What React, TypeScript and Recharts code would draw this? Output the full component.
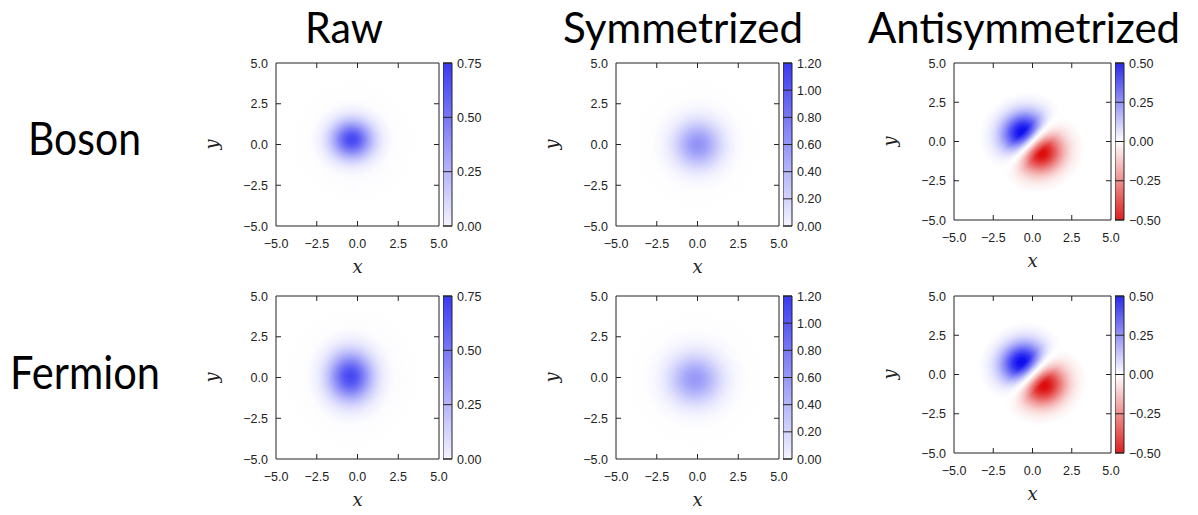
import React from "react";
import { Bar, BarChart, ReferenceArea, Scatter, ScatterChart, XAxis, YAxis } from "recharts";

const AXIS_TICKS = [-5, -2.5, 0, 2.5, 5];
const COLUMN_TITLES = ["Raw", "Symmetrized", "Antisymmetrized"];
const ROW_TITLES = ["Boson", "Fermion"];

// colour bar ranges and ticks per column
const RAW_RANGE = [0, 0.75];
const RAW_TICKS = [0, 0.25, 0.5, 0.75];
const SYM_RANGE = [0, 1.2];
const SYM_TICKS = [0, 0.2, 0.4, 0.6, 0.8, 1.0, 1.2];
const ANTI_RANGE = [-0.5, 0.5];
const ANTI_TICKS = [-0.5, -0.25, 0, 0.25, 0.5];

// density blobs: centre (x, y), peak value v, spread sx/sy, tilt a (deg)
const BOSON_RAW = [
  { x: -0.2, y: 0.15, v: 0.035, sx: 1.5, sy: 1.5, a: 0 },
  { x: -0.35, y: 0.3, v: 0.7, sx: 0.85, sy: 0.78, a: 0 },
];
const BOSON_SYM = [
  { x: 0.0, y: 0.0, v: 0.05, sx: 1.6, sy: 1.6, a: 0 },
  { x: 0.03, y: 0.0, v: 0.64, sx: 0.95, sy: 0.95, a: 0 },
];
const BOSON_ANTI = [
  { x: -0.64, y: 0.61, v: 0.5, sx: 0.95, sy: 0.82, a: 30 },
  { x: 0.6, y: -0.76, v: -0.5, sx: 0.95, sy: 0.82, a: 30 },
];
const FERMION_RAW = [
  { x: -0.3, y: 0.0, v: 0.04, sx: 1.6, sy: 1.7, a: 0 },
  { x: -0.44, y: 0.06, v: 0.7, sx: 0.9, sy: 1.0, a: 0 },
];
const FERMION_SYM = [
  { x: -0.1, y: -0.1, v: 0.05, sx: 1.7, sy: 1.7, a: 0 },
  { x: -0.15, y: -0.1, v: 0.6, sx: 1.05, sy: 1.0, a: 0 },
];
const FERMION_ANTI = [
  { x: -0.7, y: 0.79, v: 0.5, sx: 0.95, sy: 0.82, a: 30 },
  { x: 0.76, y: -0.73, v: -0.5, sx: 0.95, sy: 0.82, a: 30 },
];

const BLUE = "#3a3af2";
const PALE = "#f3f3ff";
const ANTI_BLUE = "#0a0af0";
const ANTI_RED = "#dc0a0a";
const INK = "#222";

// gaussian falloff for radial gradient (offset, relative strength), radius = 3 sigma
const GAUSS = [
  [0, 1], [0.1, 0.956], [0.2, 0.835], [0.3, 0.667], [0.4, 0.487], [0.5, 0.325],
  [0.6, 0.198], [0.7, 0.11], [0.8, 0.056], [0.9, 0.026], [1, 0],
];

const PLOT_LEFT = [276, 616, 954];
const PLOT_TOP = [63, 296];
const PLOT_SIZE = [163, 163, 157];

const fmt = (v: number, d: number) => v.toFixed(d).replace("-", "\u2212");

const YW = 60;
const XH = 30;
const TP = 10;
const RP = 16;
const TL = 5;

function Panel({ id, left, top, size, blobs, vmax, anti }: any) {
  const k = size / 10;

  const shape = (props: any) => {
    const { cx, cy, payload } = props;
    if (cx == null || cy == null) return null;
    const key = `${id}-${String(payload.x).replace(/[^0-9]/g, "")}-${String(payload.y).replace(/[^0-9]/g, "")}`;
    const color = payload.v < 0 ? ANTI_RED : anti ? ANTI_BLUE : BLUE;
    const amp = Math.min(1, Math.abs(payload.v) / vmax);
    let mask = null;
    if (anti) {
      const d = (payload.y - payload.x) / Math.SQRT2;
      const s = d >= 0 ? 1 : -1;
      const u = -s / Math.SQRT2;
      const fx = cx - u * Math.abs(d) * k;
      const fy = cy - u * Math.abs(d) * k;
      const w = 0.85 * k;
      mask = (
        <>
          <linearGradient id={`${key}g`} gradientUnits="userSpaceOnUse" x1={fx} y1={fy} x2={fx + u * w} y2={fy + u * w}>
            <stop offset="0" stopColor="#000" />
            <stop offset="0.5" stopColor="#aaa" />
            <stop offset="1" stopColor="#fff" />
          </linearGradient>
          <mask id={`${key}m`} maskUnits="userSpaceOnUse" x={YW} y={TP} width={size} height={size}>
            <rect x={YW} y={TP} width={size} height={size} fill={`url(#${key}g)`} />
          </mask>
        </>
      );
    }
    return (
      <g>
        <defs>
          <radialGradient id={key}>
            {GAUSS.map(([o, f]) => (
              <stop key={o} offset={o} stopColor={color} stopOpacity={f * amp} />
            ))}
          </radialGradient>
          <clipPath id={`${key}c`}>
            <rect x={YW} y={TP} width={size} height={size} />
          </clipPath>
          {mask}
        </defs>
        <g clipPath={`url(#${key}c)`}>
          <g mask={anti ? `url(#${key}m)` : undefined}>
            <ellipse
              cx={cx}
              cy={cy}
              rx={3 * payload.sx * k}
              ry={3 * payload.sy * k}
              transform={`rotate(${-payload.a} ${cx} ${cy})`}
              fill={`url(#${key})`}
            />
          </g>
        </g>
      </g>
    );
  };

  const xTick = (p: any) => {
    const v = p.payload.value;
    const inner = v > -5 && v < 5;
    return (
      <g>
        {inner && <line x1={p.x} x2={p.x} y1={TP + size} y2={TP + size - TL} stroke={INK} />}
        {inner && <line x1={p.x} x2={p.x} y1={TP} y2={TP + TL} stroke={INK} />}
        <text x={p.x} y={TP + size + 22} textAnchor="middle" fontSize={12.5} fill={INK}>
          {fmt(v, 1)}
        </text>
      </g>
    );
  };

  const yTick = (p: any) => {
    const v = p.payload.value;
    const inner = v > -5 && v < 5;
    return (
      <g>
        {inner && <line x1={YW} x2={YW + TL} y1={p.y} y2={p.y} stroke={INK} />}
        {inner && <line x1={YW + size} x2={YW + size - TL} y1={p.y} y2={p.y} stroke={INK} />}
        <text x={YW - 8} y={p.y + 4.5} textAnchor="end" fontSize={12.5} fill={INK}>
          {fmt(v, 1)}
        </text>
      </g>
    );
  };

  return (
    <div style={{ position: "absolute", left: left - YW, top: top - TP }}>
      <ScatterChart
        width={YW + size + RP}
        height={TP + size + XH}
        margin={{ top: TP, right: RP, bottom: 0, left: 0 }}
      >
        <XAxis type="number" dataKey="x" domain={[-5, 5]} ticks={AXIS_TICKS} interval={0} height={XH} axisLine={false} tickLine={false} tick={xTick} />
        <YAxis type="number" dataKey="y" domain={[-5, 5]} ticks={AXIS_TICKS} interval={0} width={YW} axisLine={false} tickLine={false} tick={yTick} />
        <Scatter data={blobs} shape={shape} isAnimationActive={false} />
        <ReferenceArea x1={-5} x2={5} y1={-5} y2={5} fill="none" fillOpacity={0} stroke={INK} strokeWidth={1} ifOverflow="visible" />
      </ScatterChart>
    </div>
  );
}

function ColorBar({ id, left, top, height, range, ticks, anti }: any) {
  const BW = 9;
  const LW = 50;
  const PAD = 10;
  const tick = (p: any) => (
    <g>
      <line x1={0} x2={BW} y1={p.y} y2={p.y} stroke={INK} />
      <text x={BW + 5} y={p.y + 4.5} fontSize={12.5} fill={INK}>
        {fmt(p.payload.value, 2)}
      </text>
    </g>
  );
  return (
    <div style={{ position: "absolute", left, top: top - PAD }}>
      <BarChart
        width={BW + LW}
        height={height + 2 * PAD}
        data={[{ name: "c", range }]}
        margin={{ top: PAD, right: 0, bottom: PAD, left: 0 }}
        barCategoryGap={0}
        barGap={0}
      >
        <defs>
          <linearGradient id={id} x1="0" y1="0" x2="0" y2="1">
            {anti ? (
              <>
                <stop offset="0" stopColor="#2a2ae8" />
                <stop offset="0.5" stopColor="#ffffff" />
                <stop offset="1" stopColor="#dc2020" />
              </>
            ) : (
              <>
                <stop offset="0" stopColor={BLUE} />
                <stop offset="1" stopColor={PALE} />
              </>
            )}
          </linearGradient>
        </defs>
        <XAxis dataKey="name" hide />
        <YAxis orientation="right" type="number" domain={range} ticks={ticks} interval={0} width={LW} axisLine={false} tickLine={false} tick={tick} />
        <Bar dataKey="range" fill={`url(#${id})`} stroke={INK} strokeWidth={1} isAnimationActive={false} />
      </BarChart>
    </div>
  );
}

const PANELS = [
  { row: 0, col: 0, blobs: BOSON_RAW, range: RAW_RANGE, ticks: RAW_TICKS },
  { row: 0, col: 1, blobs: BOSON_SYM, range: SYM_RANGE, ticks: SYM_TICKS },
  { row: 0, col: 2, blobs: BOSON_ANTI, range: ANTI_RANGE, ticks: ANTI_TICKS },
  { row: 1, col: 0, blobs: FERMION_RAW, range: RAW_RANGE, ticks: RAW_TICKS },
  { row: 1, col: 1, blobs: FERMION_SYM, range: SYM_RANGE, ticks: SYM_TICKS },
  { row: 1, col: 2, blobs: FERMION_ANTI, range: ANTI_RANGE, ticks: ANTI_TICKS },
];

const TITLE_X = [344, 683, 1024];
const TITLE_W = [78, 240, 312];
const ROW_X = [28, 10];
const ROW_W = [113, 150];
const ROW_BASE = [155, 389];

export default function App() {
  return (
    <div
      style={{
        position: "absolute",
        left: 0,
        top: 0,
        width: 1198,
        height: 515,
        background: "#fff",
        fontFamily: "'Liberation Sans', Arial, sans-serif",
      }}
    >
      {PANELS.map((p) => {
        const left = PLOT_LEFT[p.col];
        const top = PLOT_TOP[p.row];
        const size = PLOT_SIZE[p.col];
        const anti = p.col === 2;
        return (
          <React.Fragment key={`${p.row}-${p.col}`}>
            <Panel id={`p${p.row}${p.col}`} left={left} top={top} size={size} blobs={p.blobs} vmax={p.range[1]} anti={anti} />
            <ColorBar id={`cb${p.row}${p.col}`} left={left + size + 3.5} top={top} height={size} range={p.range} ticks={p.ticks} anti={anti} />
          </React.Fragment>
        );
      })}
      <svg width={1198} height={515} style={{ position: "absolute", left: 0, top: 0, pointerEvents: "none" }}>
        {COLUMN_TITLES.map((t, i) => (
          <text key={t} x={TITLE_X[i]} y={42.5} textAnchor="middle" fontSize={42.5} fontFamily="Lato, 'Open Sans', sans-serif" fill="#000" textLength={TITLE_W[i]} lengthAdjust="spacingAndGlyphs">
            {t}
          </text>
        ))}
        {ROW_TITLES.map((t, i) => (
          <text key={t} x={ROW_X[i]} y={ROW_BASE[i]} fontSize={47} fontFamily="Lato, 'Open Sans', sans-serif" fill="#000" textLength={ROW_W[i]} lengthAdjust="spacingAndGlyphs">
            {t}
          </text>
        ))}
        {PANELS.map((p) => {
          const left = PLOT_LEFT[p.col];
          const top = PLOT_TOP[p.row];
          const size = PLOT_SIZE[p.col];
          return (
            <g key={`lab${p.row}${p.col}`} fontFamily="'DejaVu Serif', serif" fontStyle="italic" fontSize={18} fill={INK}>
              <text x={left + size / 2} y={top + size + 47} textAnchor="middle">x</text>
              <text transform={`translate(${left - 58}, ${top + size / 2}) rotate(-90)`} textAnchor="middle">y</text>
            </g>
          );
        })}
      </svg>
    </div>
  );
}
